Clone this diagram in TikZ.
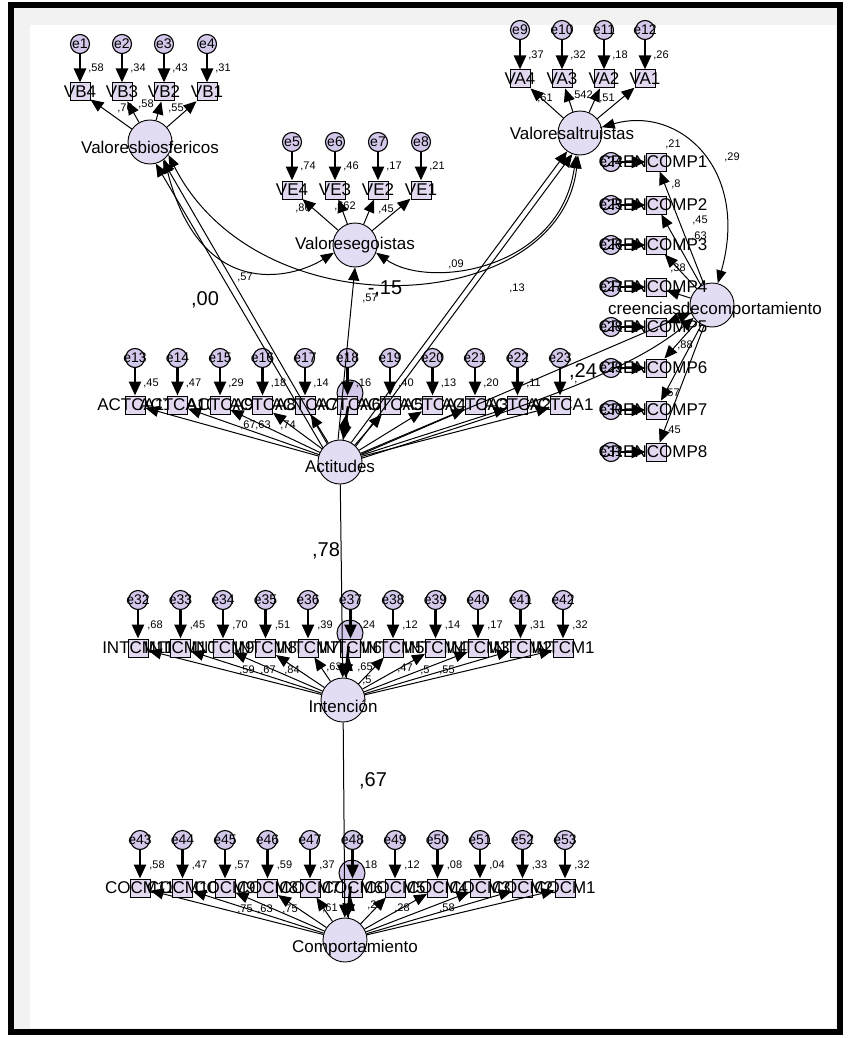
\documentclass[tikz,border=0pt]{standalone}
\usepackage{fontspec}
\setmainfont{Liberation Sans}
\usetikzlibrary{arrows.meta}
\definecolor{latfill}{HTML}{E4DCF2}
\definecolor{obsfill}{HTML}{E2D8F0}
\definecolor{errfill}{HTML}{D4C8EA}
\begin{document}
\begin{tikzpicture}[x=1pt,y=-1pt,
 lat/.style={circle,draw,fill=latfill,minimum size=44pt,inner sep=0pt,line width=0.9pt},
 obs/.style={rectangle,draw,fill=obsfill,minimum width=20pt,minimum height=18pt,inner sep=0pt,line width=1pt},
 err/.style={circle,draw,fill=errfill,minimum size=19pt,inner sep=0pt,line width=1.1pt},
 res/.style={circle,draw,fill=errfill,minimum size=26pt,inner sep=0pt,line width=1pt},
 vname/.style={font=\fontsize{17}{17}\selectfont,inner sep=0pt},
 ename/.style={font=\fontsize{14}{14}\selectfont,inner sep=0pt},
 lbl/.style={font=\fontsize{11}{11}\selectfont,inner sep=0pt},
 big/.style={font=\fontsize{20}{20}\selectfont,inner sep=0pt},
 ea/.style={-{Triangle[length=14pt,width=12pt]},line width=2.6pt},
 ld/.style={-{Triangle[length=13pt,width=11pt]},line width=1pt},
 cov/.style={{Triangle[length=13pt,width=10pt]}-{Triangle[length=13pt,width=10pt]},line width=1pt},
]
\useasboundingbox (0,0) rectangle (847,1038);
\fill[white] (0,0) rectangle (847,1038);
\fill[black!5] (12,8) rectangle (838,1030);
\fill[white] (30,25) rectangle (836,1028);
\draw[line width=6pt] (11,5) rectangle (840,1032);

% latent variables
\node[lat] (VB) at (150,142) {};
\node[lat] (VE) at (355,245) {};
\node[lat] (VA) at (580,133) {};
\node[lat] (CC) at (712,305) {};
\node[lat] (ACT) at (340,462) {};
\node[lat] (INT) at (343,700) {};
\node[lat] (COMP) at (345,940) {};

% residuals
\node[res] (dA) at (350,393) {};
\node[res] (dI) at (350,633) {};
\node[res] (dC) at (352,873) {};

% ---------- Valores biosfericos
\foreach \k/\x/\nm/\r/\e in {1/80/VB4/58/e1,2/122/VB3/34/e2,3/164/VB2/43/e3,4/207/VB1/31/e4}{
  \node[obs] (vb\k) at (\x,92) {};
  \node[err] (\e) at (\x,44) {};
  \draw[ea] (\e) -- (vb\k);
  \draw[ld] (VB) -- (vb\k);
  \node[lbl] at (\x+16,68) {,\r};
  \node[vname] at (\x,92) {\nm};
  \node[ename] at (\x,44) {\e};
}
\node[lbl] at (125,108) {,76};
\node[lbl] at (146,104) {,58};
\node[lbl] at (176,108) {,55};

% ---------- Valores egoistas
\foreach \k/\x/\nm/\r/\e in {1/292/VE4/74/e5,2/335/VE3/46/e6,3/378/VE2/17/e7,4/421/VE1/21/e8}{
  \node[obs] (ve\k) at (\x,190) {};
  \node[err] (\e) at (\x,142) {};
  \draw[ea] (\e) -- (ve\k);
  \draw[ld] (VE) -- (ve\k);
  \node[lbl] at (\x+16,166) {,\r};
  \node[vname] at (\x,190) {\nm};
  \node[ename] at (\x,142) {\e};
}
\node[lbl] at (303,208) {,86};
\node[lbl] at (345,206) {,662};
\node[lbl] at (386,209) {,45};

% ---------- Valores altruistas
\foreach \k/\x/\nm/\r/\e in {1/520/VA4/37/e9,2/562/VA3/32/e10,3/604/VA2/18/e11,4/645/VA1/26/e12}{
  \node[obs] (va\k) at (\x,79) {};
  \node[err] (\e) at (\x,30) {};
  \draw[ea] (\e) -- (va\k);
  \draw[ld] (VA) -- (va\k);
  \node[lbl] at (\x+16,55) {,\r};
  \node[vname] at (\x,79) {\nm};
  \node[ename] at (\x,30) {\e};
}
\node[lbl] at (545,98) {,61};
\node[lbl] at (582,95) {,542};
\node[lbl] at (607,98) {,51};

% ---------- creencias de comportamiento
\foreach \k/\y/\e in {1/162/e24,2/205/e25,3/245/e26,4/287/e27,5/327/e28,6/368/e29,7/410/e30,8/452/e31}{
  \node[obs] (cc\k) at (656,\y) {};
  \node[err] (\e) at (611,\y) {};
  \draw[ea] (\e) -- (cc\k);
  \draw[ld] (CC) -- (cc\k);
  \node[vname] at (653,\y) {CRENCOMP\k};
  \node[ename] at (611,\y) {\e};
}
\node[lbl] at (732,157) {,29};
\node[lbl] at (676,184) {,8};
\node[lbl] at (700,220) {,45};
\node[lbl] at (699,236) {,63};
\node[lbl] at (678,268) {,38};
\node[lbl] at (685,345) {,88};
\node[lbl] at (672,393) {,57};
\node[lbl] at (673,430) {,45};

% ---------- Actitudes
\foreach \k/\nm/\r/\e in {0/ACTCA11/45/e13,1/ACTCA10/47/e14,2/ACTCA9/29/e15,3/ACTCA8/18/e16,4/ACTCA7/14/e17,5/ACTCA6/16/e18,6/ACTCA5/40/e19,7/ACTCA4/13/e20,8/ACTCA3/20/e21,9/ACTCA2/11/e22,10/ACTCA1//e23}{
  \pgfmathsetmacro{\x}{135+42.5*\k}
  \node[obs] (act\k) at (\x,405) {};
  \node[err] (\e) at (\x,358) {};
  \draw[ea] (\e) -- (act\k);
  \draw[ld] (ACT) -- (act\k);
  \node[lbl] at (\x+16,383) {,\r};
  \node[vname] at (\x,405) {\nm};
  \node[ename] at (\x,358) {\e};
}
\node[lbl] at (248,425) {,67};
\node[lbl] at (263,425) {,63};
\node[lbl] at (288,425) {,74};

% ---------- Intencion
\foreach \k/\nm/\r/\e in {0/INTCM11/68/e32,1/INTCM10/45/e33,2/INTCM9/70/e34,3/INTCM8/51/e35,4/INTCM7/39/e36,5/INTCM6/24/e37,6/INTCM5/12/e38,7/INTCM4/14/e39,8/INTCM3/17/e40,9/INTCM2/31/e41,10/INTCM1/32/e42}{
  \pgfmathsetmacro{\x}{138+42.5*\k}
  \node[obs] (int\k) at (\x,648) {};
  \node[err] (\e) at (\x,600) {};
  \draw[ea] (\e) -- (int\k);
  \draw[ld] (INT) -- (int\k);
  \node[lbl] at (\x+17,625) {,\r};
  \node[vname] at (\x,648) {\nm};
  \node[ename] at (\x,600) {\e};
}
\node[lbl] at (247,670) {,59};
\node[lbl] at (268,670) {,67};
\node[lbl] at (292,670) {,84};
\node[lbl] at (334,667) {,63};
\node[lbl] at (365,667) {,65};
\node[lbl] at (367,680) {,5};
\node[lbl] at (405,668) {,47};
\node[lbl] at (425,670) {,5};
\node[lbl] at (447,670) {,55};

% ---------- Comportamiento
\foreach \k/\nm/\r/\e in {0/COCM11/58/e43,1/COCM10/47/e44,2/COCM9/57/e45,3/COCM8/59/e46,4/COCM7/37/e47,5/COCM6/18/e48,6/COCM5/12/e49,7/COCM4/08/e50,8/COCM3/04/e51,9/COCM2/33/e52,10/COCM1/32/e53}{
  \pgfmathsetmacro{\x}{140+42.5*\k}
  \node[obs] (cmp\k) at (\x,888) {};
  \node[err] (\e) at (\x,840) {};
  \draw[ea] (\e) -- (cmp\k);
  \draw[ld] (COMP) -- (cmp\k);
  \node[lbl] at (\x+17,865) {,\r};
  \node[vname] at (\x,888) {\nm};
  \node[ename] at (\x,840) {\e};
}
\node[lbl] at (245,909) {,75};
\node[lbl] at (265,909) {,63};
\node[lbl] at (290,909) {,75};
\node[lbl] at (330,908) {,61};
\node[lbl] at (375,905) {,25};
\node[lbl] at (402,908) {,28};
\node[lbl] at (447,908) {,58};

% ---------- structural paths
\draw[ea] (dA) -- (ACT);
\draw[ea] (dI) -- (INT);
\draw[ea] (dC) -- (COMP);
\draw[ld] (ACT) -- (INT);
\draw[ld] (INT) -- (COMP);
\node[big] at (326,551) {,78};
\node[big] at (373,781) {,67};

\draw[ld] (ACT.125) -- (VB.-55);
\draw[ld] (ACT.140) -- (VB.-75);
\node[big] at (205,300) {,00};
\draw[ld] (ACT.95) -- (VE.-90);
\node[lbl] at (370,298) {,57};
\node[big] at (385,289) {-,15};
\draw[ld] (ACT.60) -- (VA.-125);
\draw[ld] (ACT.45) -- (VA.-110);
\draw[ld] (ACT.20) -- (CC.200);
\draw[ld] (ACT.10) .. controls (480,420) and (620,380) .. (CC.215);
\node[big] at (583,372) {,24};

% covariances
\draw[cov] (VB.-50) .. controls (200,300) and (290,280) .. (VE.200);
\node[lbl] at (245,277) {,57};
\draw[cov] (VB.-35) .. controls (260,335) and (560,315) .. (VA.-95);
\node[lbl] at (517,288) {,13};
\draw[cov] (VE.-20) .. controls (430,290) and (560,270) .. (VA.-100);
\node[lbl] at (456,264) {,09};
\draw[cov] (VA.15) .. controls (680,105) and (750,170) .. (CC.75);
\node[lbl] at (673,144) {,21};

% latent names
\node[vname] at (150,147) {Valoresbiosfericos};
\node[vname] at (355,245) {Valoresegoistas};
\node[vname] at (572,133) {Valoresaltruistas};
\node[vname] at (715,310) {creenciasdecomportamiento};
\node[vname] at (340,466) {Actitudes};
\node[vname] at (343,706) {Intención};
\node[vname] at (355,948) {Comportamiento};
\end{tikzpicture}
\end{document}
